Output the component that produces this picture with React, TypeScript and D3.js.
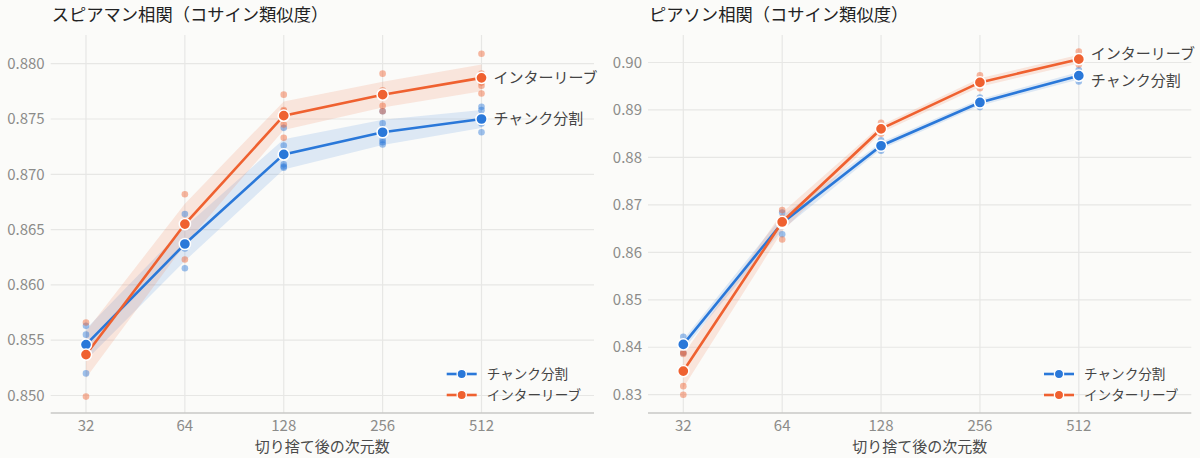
import * as d3 from "d3";
import React from "react";

// 切り捨て後の次元数
const dims = [32, 64, 128, 256, 512];

// individual runs per dimension (5 seeds)
const spearmanChunk = [
	[0.8563, 0.8555, 0.8546, 0.8546, 0.852],
	[0.8664, 0.8637, 0.8636, 0.8633, 0.8615],
	[0.8742, 0.8726, 0.8709, 0.8707, 0.8706],
	[0.8757, 0.8746, 0.8731, 0.8729, 0.8727],
	[0.8761, 0.8758, 0.8747, 0.8746, 0.8738],
];
const spearmanInter = [
	[0.8566, 0.8541, 0.854, 0.8539, 0.8499],
	[0.8682, 0.8658, 0.8657, 0.8655, 0.8623],
	[0.8772, 0.8758, 0.8757, 0.8745, 0.8733],
	[0.8791, 0.8776, 0.8774, 0.8762, 0.8757],
	[0.8809, 0.8791, 0.8783, 0.878, 0.8773],
];
const pearsonChunk = [
	[0.8422, 0.8407, 0.8407, 0.8406, 0.8388],
	[0.8684, 0.8668, 0.8662, 0.8658, 0.8638],
	[0.8836, 0.8829, 0.8824, 0.882, 0.8814],
	[0.8926, 0.892, 0.8915, 0.8912, 0.8906],
	[0.8984, 0.8977, 0.8972, 0.8968, 0.896],
];
const pearsonInter = [
	[0.8389, 0.8386, 0.8356, 0.8318, 0.83],
	[0.8689, 0.8672, 0.8667, 0.8665, 0.8627],
	[0.8873, 0.8864, 0.8858, 0.8855, 0.885],
	[0.8973, 0.8962, 0.8957, 0.8952, 0.8946],
	[0.9023, 0.901, 0.9006, 0.9, 0.8996],
];

const spearmanTicks = [0.85, 0.855, 0.86, 0.865, 0.87, 0.875, 0.88];
const pearsonTicks = [0.83, 0.84, 0.85, 0.86, 0.87, 0.88, 0.89, 0.9];

const seriesNames = ["チャンク分割", "インターリーブ"];
const seriesColors = ["#2a78d9", "#ef6130"];

const FONT = "'Noto Sans CJK JP', 'Noto Sans', sans-serif";
const BG = "#fbfbf9";

interface PanelProps {
	left: number;
	title: string;
	runs: number[][][];
	yDomain: [number, number];
	yRange: [number, number];
	ticks: number[];
	fmt: string;
}

const Panel = (props: PanelProps) => {
	const { left, runs } = props;
	const width = 543.3;
	const top = 35,
		bottom = 413;

	const x = d3
		.scaleLog()
		.base(2)
		.domain([32, 512])
		.range([left + 35.3, left + 430.8]);
	const y = d3.scaleLinear().domain(props.yDomain).range(props.yRange);
	const fmt = d3.format(props.fmt);

	const stats = runs.map((s) =>
		s.map((vals, i) => {
			const m = d3.mean(vals)!;
			const half = (1.96 * d3.deviation(vals)!) / Math.sqrt(vals.length);
			return { d: dims[i], m, lo: m - half, hi: m + half };
		})
	);

	const line = d3
		.line<{ d: number; m: number }>()
		.x((p) => x(p.d))
		.y((p) => y(p.m));
	const area = d3
		.area<{ d: number; lo: number; hi: number }>()
		.x((p) => x(p.d))
		.y0((p) => y(p.lo))
		.y1((p) => y(p.hi));

	// end labels, pushed apart when too close
	const ends = stats.map((s) => y(s[s.length - 1].m));
	const labelY = [...ends];
	const gap = 26.5;
	if (Math.abs(labelY[0] - labelY[1]) < gap) {
		const mid = (labelY[0] + labelY[1]) / 2;
		const sign = labelY[0] > labelY[1] ? 1 : -1;
		labelY[0] = mid + (sign * gap) / 2;
		labelY[1] = mid - (sign * gap) / 2;
	}

	return (
		<g fontFamily={FONT}>
			{/* grid */}
			{props.ticks.map((t) => (
				<line
					key={"h" + t}
					x1={left}
					x2={left + width}
					y1={y(t)}
					y2={y(t)}
					stroke="#e7e7e5"
					strokeWidth={1.2}
				/>
			))}
			{dims.map((d) => (
				<line
					key={"v" + d}
					x1={x(d)}
					x2={x(d)}
					y1={top}
					y2={bottom}
					stroke="#e7e7e5"
					strokeWidth={1.2}
				/>
			))}
			<line
				x1={left}
				x2={left + width}
				y1={bottom}
				y2={bottom}
				stroke="#c9c9c6"
				strokeWidth={1.4}
			/>
			{props.ticks.map((t) => (
				<text
					key={"yt" + t}
					x={left - 6}
					y={y(t)}
					dy="0.35em"
					textAnchor="end"
					fontSize={15}
					fill="#8c8c8a"
				>
					{fmt(t)}
				</text>
			))}
			{dims.map((d) => (
				<text
					key={"xt" + d}
					x={x(d)}
					y={426}
					dy="0.35em"
					textAnchor="middle"
					fontSize={15}
					fill="#8c8c8a"
				>
					{d}
				</text>
			))}
			<text
				x={left + width / 2}
				y={447}
				dy="0.35em"
				textAnchor="middle"
				fontSize={15}
				fill="#4a4a4a"
			>
				切り捨て後の次元数
			</text>
			<text x={left + 1} y={21} fontSize={17.3} fill="#222">
				{props.title}
			</text>

			{/* bands */}
			{stats.map((s, i) => (
				<path key={"b" + i} d={area(s)!} fill={seriesColors[i]} opacity={0.14} />
			))}
			{/* runs */}
			{runs.map((s, i) =>
				s.map((vals, j) =>
					vals.map((v, k) => (
						<circle
							key={`p${i}-${j}-${k}`}
							cx={x(dims[j])}
							cy={y(v)}
							r={3.3}
							fill={seriesColors[i]}
							opacity={0.45}
						/>
					))
				)
			)}
			{stats.map((s, i) => (
				<path
					key={"l" + i}
					d={line(s)!}
					fill="none"
					stroke={seriesColors[i]}
					strokeWidth={2.6}
				/>
			))}
			{stats.map((s, i) =>
				s.map((p) => (
					<circle
						key={`m${i}-${p.d}`}
						cx={x(p.d)}
						cy={y(p.m)}
						r={5.6}
						fill={seriesColors[i]}
						stroke="#fff"
						strokeWidth={1.5}
					/>
				))
			)}
			{stats.map((s, i) => (
				<text
					key={"el" + i}
					x={x(512) + 12}
					y={labelY[i]}
					dy="0.35em"
					fontSize={15}
					fill="#444"
				>
					{seriesNames[i]}
				</text>
			))}

			{/* legend */}
			{seriesNames.map((n, i) => {
				const ly = 374 + i * 21;
				return (
					<g key={"lg" + i}>
						<line
							x1={left + 396}
							x2={left + 426}
							y1={ly}
							y2={ly}
							stroke={seriesColors[i]}
							strokeWidth={2.6}
						/>
						<circle
							cx={left + 411}
							cy={ly}
							r={4.6}
							fill={seriesColors[i]}
							stroke="#fff"
							strokeWidth={1.3}
						/>
						<text
							x={left + 436}
							y={ly}
							dy="0.35em"
							fontSize={13.6}
							fill="#444"
						>
							{n}
						</text>
					</g>
				);
			})}
		</g>
	);
};

const App = () => {
	return (
		<svg
			width={1200}
			height={458}
			style={{ position: "absolute", left: 0, top: 0, background: BG }}
		>
			<rect width={1200} height={458} fill={BG} />
			<Panel
				left={50.7}
				title="スピアマン相関（コサイン類似度）"
				runs={[spearmanChunk, spearmanInter]}
				yDomain={[0.85, 0.88]}
				yRange={[395.5, 63.7]}
				ticks={spearmanTicks}
				fmt=".3f"
			/>
			<Panel
				left={648}
				title="ピアソン相関（コサイン類似度）"
				runs={[pearsonChunk, pearsonInter]}
				yDomain={[0.83, 0.9]}
				yRange={[394.7, 62.5]}
				ticks={pearsonTicks}
				fmt=".2f"
			/>
		</svg>
	);
};

export default App;
